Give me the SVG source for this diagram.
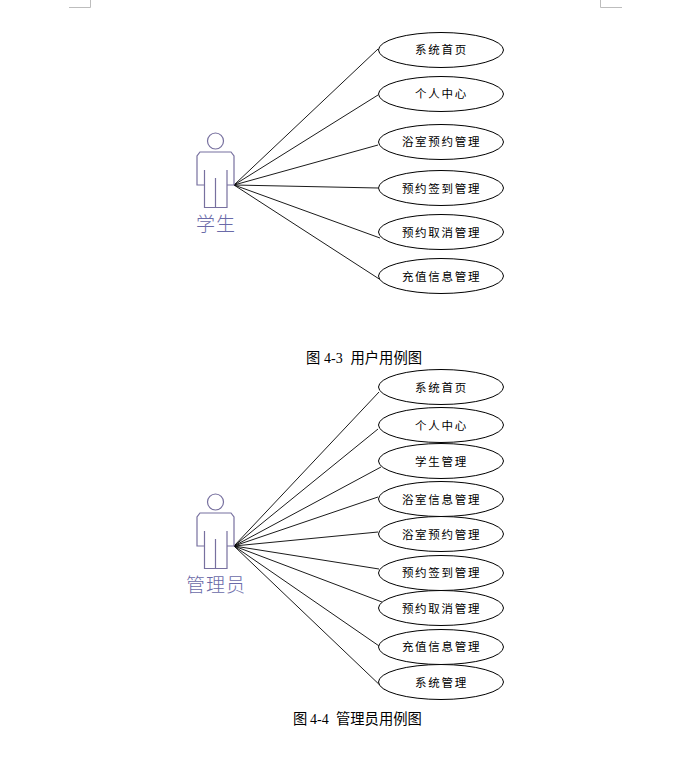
<svg xmlns="http://www.w3.org/2000/svg" width="693" height="782" viewBox="0 0 693 782">
<style>
.uc{fill:#fff;stroke:#000;stroke-width:1}
.ut{font-family:"Noto Sans CJK SC","Liberation Sans",sans-serif;font-size:11.500px;font-weight:400;letter-spacing:1.700px;text-anchor:middle;fill:#000}
.ln{stroke:#000;stroke-width:.9;fill:none}
.ac{fill:none;stroke:#77709f;stroke-width:1.2}
.al{font-family:"Noto Sans CJK SC",sans-serif;font-weight:300;font-size:19px;letter-spacing:1px;text-anchor:middle;fill:#6a6aa8}
.cap{font-family:"Noto Sans CJK SC",sans-serif;font-weight:400;font-size:14.300px;fill:#000}
.num{font-family:"Liberation Serif",serif;font-weight:400;font-size:14px}
.crop{fill:none;stroke:#bdbdbd;stroke-width:1}
</style>
<defs>
<g id="actor">
<circle class="ac" cx="215.500" cy="141" r="8"/>
<path class="ac" d="M204.500 185H197V156L200 152H231L234 156V185H227V207.500H204.500V170M215.500 178V207.500M227 170V185"/>
</g>
</defs>
<rect width="693" height="782" fill="#fff"/>
<path class="crop" d="M69 7.500H90.500V0M622 7.500H600.500V0"/>
<g id="connectors">
<path class="ln" d="M234 185L378 49M234 185L378 95M234 185L378 145M234 185L378 188M234 185L380 238M234 185L380 279.500"/>
<path class="ln" d="M234 546L379 392M234 546L378 429M234 546L381 467M234 546L378 497M234 546L378 532M234 546L379 569M234 546L382 602M234 546L382 648M234 546L385 690"/>
</g>
<g id="actor-student"><use href="#actor"/><text class="al" x="216" y="231">学生</text></g>
<g id="actor-admin"><use href="#actor" y="361"/><text class="al" x="216" y="592">管理员</text></g>
<g id="uc1"><ellipse class="uc" cx="441" cy="50" rx="62.500" ry="17.500"/><text class="ut" x="441.500" y="54">系统首页</text></g>
<g id="uc2"><ellipse class="uc" cx="441" cy="94" rx="62.500" ry="17.500"/><text class="ut" x="441.500" y="97.500">个人中心</text></g>
<g id="uc3"><ellipse class="uc" cx="441" cy="142" rx="62.500" ry="17.500"/><text class="ut" x="441.500" y="146">浴室预约管理</text></g>
<g id="uc4"><ellipse class="uc" cx="441" cy="188" rx="62.500" ry="17.500"/><text class="ut" x="441.500" y="193">预约签到管理</text></g>
<g id="uc5"><ellipse class="uc" cx="441" cy="232" rx="62.500" ry="17.500"/><text class="ut" x="441.500" y="237">预约取消管理</text></g>
<g id="uc6"><ellipse class="uc" cx="441" cy="276" rx="62.500" ry="17.500"/><text class="ut" x="441.500" y="281">充值信息管理</text></g>
<g id="cap1"><text class="cap" x="306" y="363">图<tspan class="num" x="324">4-3</tspan><tspan x="350.500">用户用例图</tspan></text></g>
<g id="ua1"><ellipse class="uc" cx="441" cy="387" rx="62.500" ry="17.500"/><text class="ut" x="441.500" y="392">系统首页</text></g>
<g id="ua2"><ellipse class="uc" cx="441" cy="425" rx="62.500" ry="17.500"/><text class="ut" x="441.500" y="430">个人中心</text></g>
<g id="ua3"><ellipse class="uc" cx="441" cy="461" rx="62.500" ry="17.500"/><text class="ut" x="441.500" y="466">学生管理</text></g>
<g id="ua4"><ellipse class="uc" cx="441" cy="499" rx="62.500" ry="17.500"/><text class="ut" x="441.500" y="504">浴室信息管理</text></g>
<g id="ua5"><ellipse class="uc" cx="441" cy="534" rx="62.500" ry="17.500"/><text class="ut" x="441.500" y="539">浴室预约管理</text></g>
<g id="ua6"><ellipse class="uc" cx="441" cy="573" rx="62.500" ry="17.500"/><text class="ut" x="441.500" y="577">预约签到管理</text></g>
<g id="ua7"><ellipse class="uc" cx="441" cy="608" rx="62.500" ry="17.500"/><text class="ut" x="441.500" y="613">预约取消管理</text></g>
<g id="ua8"><ellipse class="uc" cx="441" cy="647" rx="62.500" ry="17.500"/><text class="ut" x="441.500" y="651">充值信息管理</text></g>
<g id="ua9"><ellipse class="uc" cx="441" cy="682" rx="62.500" ry="17.500"/><text class="ut" x="441.500" y="686.500">系统管理</text></g>
<g id="cap2"><text class="cap" x="293" y="724">图<tspan class="num" x="310">4-4</tspan><tspan x="336">管理员用例图</tspan></text></g>
</svg>
